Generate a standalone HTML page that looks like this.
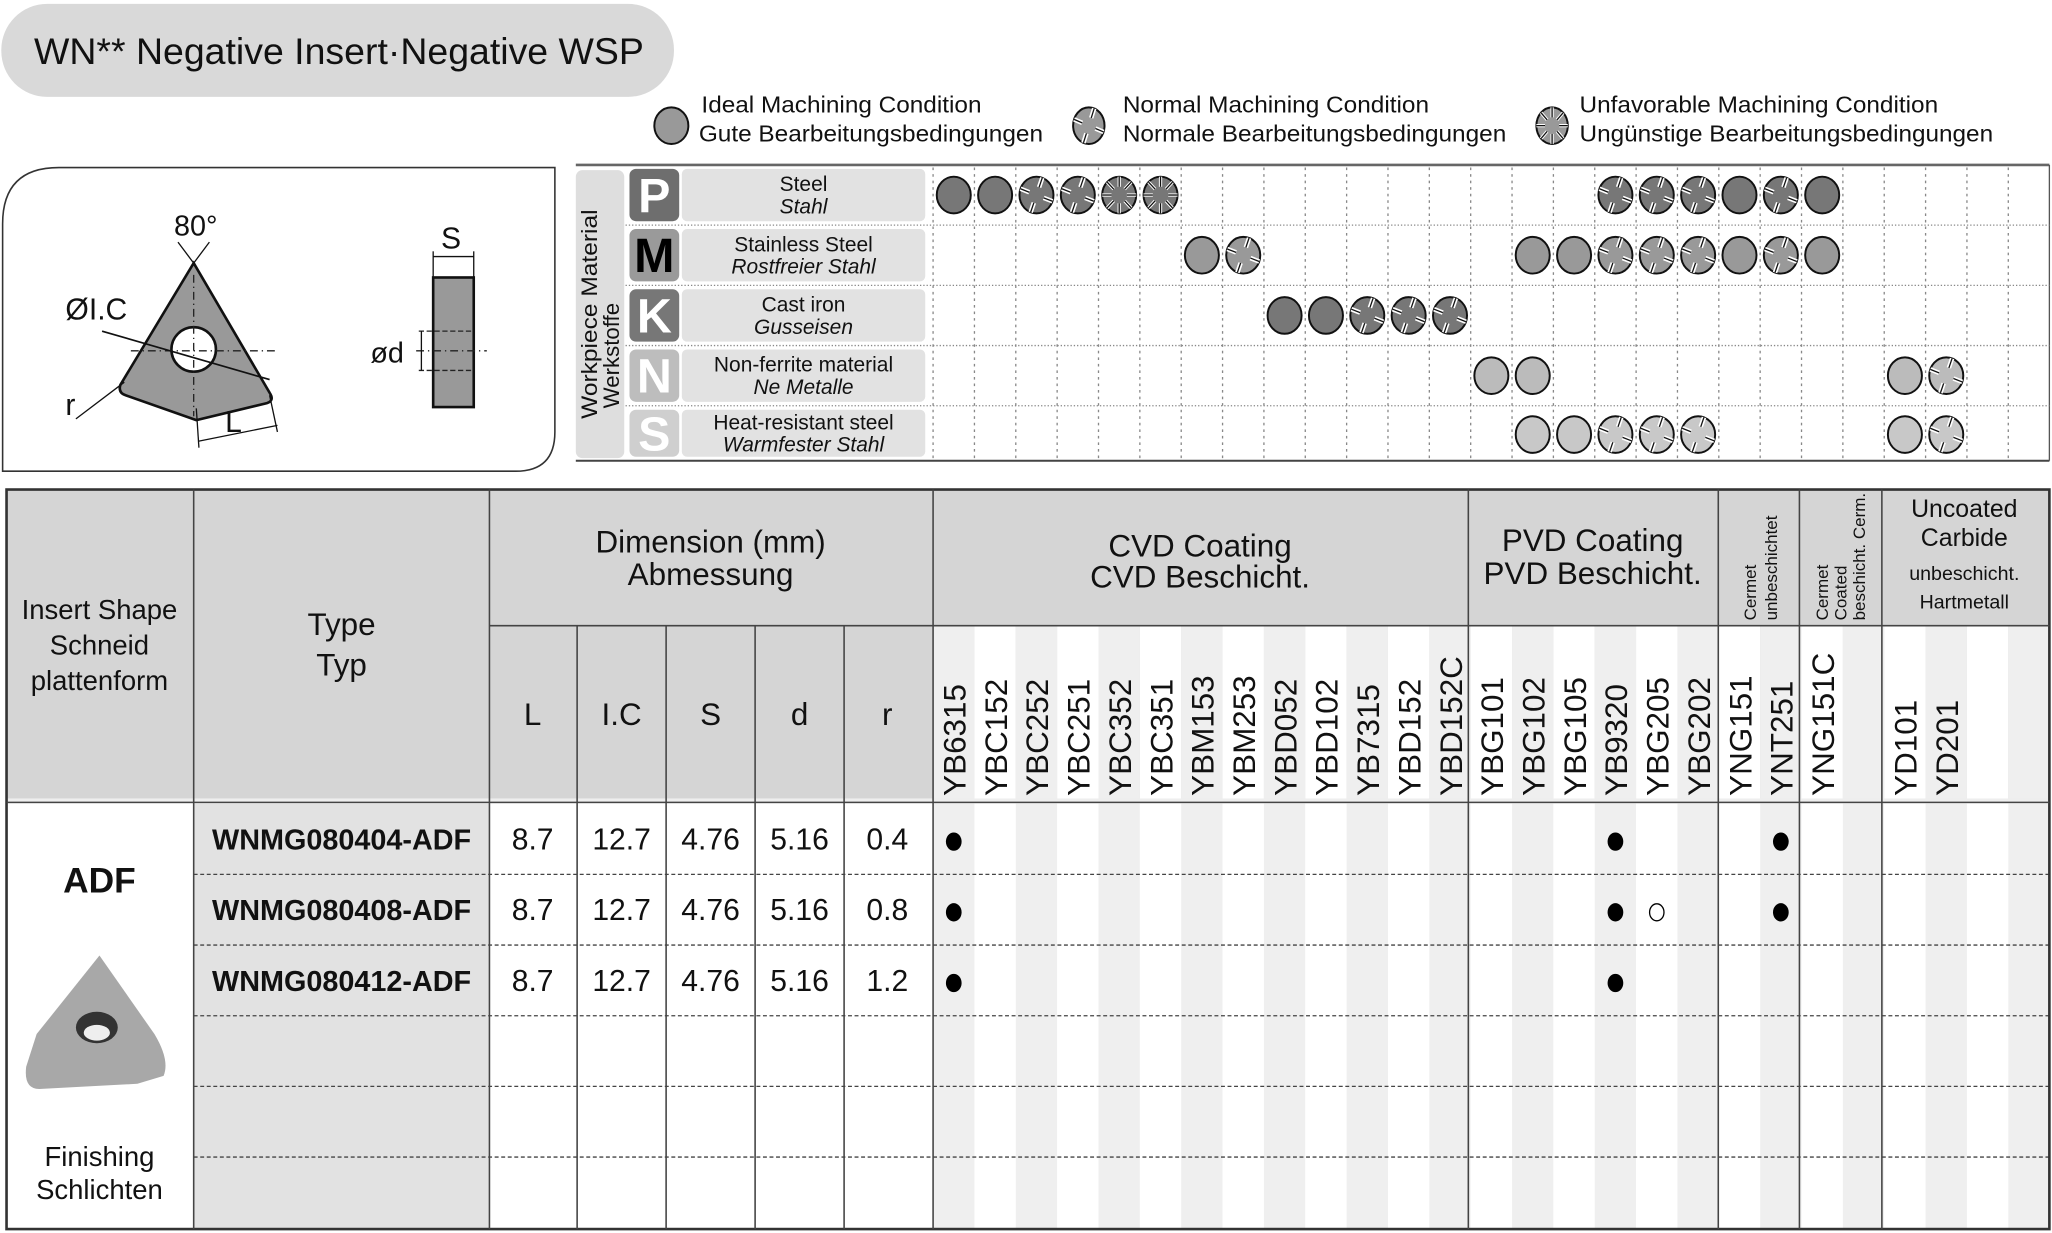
<!DOCTYPE html>
<html><head><meta charset="utf-8"><style>
html,body{margin:0;padding:0;background:#fff;width:2052px;height:1233px;overflow:hidden}
svg{display:block}
text{font-family:"Liberation Sans",sans-serif;fill:#111}
</style></head><body>
<svg id="s" width="2052" height="1233" viewBox="0 0 1568 942" preserveAspectRatio="none" xmlns="http://www.w3.org/2000/svg">
<rect x="0" y="0" width="1568" height="942" fill="#fff"/>
<!-- title -->
<rect x="1" y="3" width="514" height="71" rx="35" fill="#d9d9d9"/>
<text x="26" y="49" font-size="28" textLength="466" lengthAdjust="spacingAndGlyphs">WN** Negative Insert·Negative WSP</text>
<!-- legend -->
<g id="leg"></g>
<text x="536" y="86" font-size="18" textLength="214" lengthAdjust="spacingAndGlyphs">Ideal Machining Condition</text>
<text x="534" y="108" font-size="18" textLength="263" lengthAdjust="spacingAndGlyphs">Gute Bearbeitungsbedingungen</text>
<text x="858" y="86" font-size="18" textLength="234" lengthAdjust="spacingAndGlyphs">Normal Machining Condition</text>
<text x="858" y="108" font-size="18" textLength="293" lengthAdjust="spacingAndGlyphs">Normale Bearbeitungsbedingungen</text>
<text x="1207" y="86" font-size="18" textLength="274" lengthAdjust="spacingAndGlyphs">Unfavorable Machining Condition</text>
<text x="1207" y="108" font-size="18" textLength="316" lengthAdjust="spacingAndGlyphs">Ungünstige Bearbeitungsbedingungen</text>
<!-- drawing frame -->
<path d="M45,128 H424 V330 Q424,360 394,360 H2 V171 Q2,128 45,128 Z" fill="none" stroke="#333" stroke-width="1.2"/>
<path d="M148,201 L206,300 Q210,306 204,308 L150,321 L96,302 Q90,300 92,294 Z" fill="#999" stroke="#111" stroke-width="2"/>
<circle cx="148" cy="267" r="17" fill="#fff" stroke="#111" stroke-width="2"/>
<line x1="100" y1="268" x2="212" y2="268" stroke="#222" stroke-dasharray="6,3,1,3"/>
<line x1="148" y1="210" x2="148" y2="318" stroke="#222" stroke-dasharray="6,3,1,3"/>
<line x1="78" y1="253" x2="206" y2="290" stroke="#111" stroke-width="1.3"/>
<line x1="148" y1="201" x2="136" y2="185" stroke="#111"/><line x1="148" y1="201" x2="160" y2="185" stroke="#111"/>
<text x="133" y="180" font-size="22">80°</text>
<text x="50" y="244" font-size="23">ØI.C</text>
<text x="50" y="317" font-size="23">r</text>
<line x1="58" y1="320" x2="95" y2="292" stroke="#111"/>
<text x="172" y="330" font-size="23">L</text>
<line x1="152" y1="337" x2="212" y2="325" stroke="#111"/>
<line x1="150" y1="312" x2="152" y2="342" stroke="#111"/><line x1="206" y1="302" x2="212" y2="330" stroke="#111"/>
<rect x="331" y="212" width="31" height="99" fill="#999" stroke="#111" stroke-width="2"/>
<line x1="331" y1="192" x2="331" y2="212" stroke="#111"/><line x1="362" y1="192" x2="362" y2="212" stroke="#111"/>
<line x1="331" y1="196" x2="362" y2="196" stroke="#111"/>
<text x="337" y="190" font-size="23">S</text>
<line x1="318" y1="268" x2="372" y2="268" stroke="#222" stroke-dasharray="6,3,1,3"/>
<line x1="320" y1="253" x2="362" y2="253" stroke="#222" stroke-dasharray="4,2"/><line x1="320" y1="283" x2="362" y2="283" stroke="#222" stroke-dasharray="4,2"/>
<line x1="322" y1="253" x2="322" y2="283" stroke="#111"/>
<text x="283" y="277" font-size="22">ød</text>
<!-- top chart -->
<line x1="440" y1="126" x2="1566" y2="126" stroke="#666" stroke-width="2"/>
<line x1="440" y1="352" x2="1566" y2="352" stroke="#444" stroke-width="1.5"/>
<line x1="1566" y1="126" x2="1566" y2="352" stroke="#555"/>
<rect x="440" y="130" width="37" height="220" rx="5" fill="#dedede"/>
<text transform="translate(456,320) rotate(-90)" font-size="17" textLength="160" lengthAdjust="spacingAndGlyphs">Workpiece Material</text>
<text transform="translate(473,312) rotate(-90)" font-size="17">Werkstoffe</text>
<g id="top"></g>
<!-- bottom table -->
<g id="bot"></g>
</svg>
<script>
const NS="http://www.w3.org/2000/svg";
function el(p,t,a,txt){const e=document.createElementNS(NS,t);for(const k in a)e.setAttribute(k,a[k]);if(txt!==undefined)e.textContent=txt;p.appendChild(e);return e;}
function icon(p,cx,cy,rx,ry,fill,type){
 el(p,'ellipse',{cx,cy,rx,ry,fill,stroke:'#111','stroke-width':1.5});
 if(type===0)return;
 const angs=type===1?[20,110,200,290]:[0,45,90,135,180,225,270,315];
 for(const a of angs){const r=a*Math.PI/180;
  const x1=cx+Math.cos(r)*rx,y1=cy+Math.sin(r)*ry,x2=cx+Math.cos(r)*rx*0.45,y2=cy+Math.sin(r)*ry*0.45;
  el(p,'line',{x1,y1,x2,y2,stroke:'#fff','stroke-width':type===1?3.5:2.5});
  el(p,'line',{x1,y1,x2,y2,stroke:'#111','stroke-width':1});}
}
const leg=document.getElementById('leg');
icon(leg,513,96,13,14,'#999',0);icon(leg,832,96,12,14,'#999',1);icon(leg,1186,96,12,14,'#999',2);
const top_=document.getElementById('top');
const CW=31.6,X0=713;const cx=i=>X0+CW*i+15.8;
const rows=[[126,172],[172,218],[218,264],[264,310],[310,352]];
const mats=[['P','#6e6e6e','#fff','Steel','Stahl','#777'],['M','#9a9a9a','#000','Stainless Steel','Rostfreier Stahl','#999'],['K','#777','#fff','Cast iron','Gusseisen','#777'],['N','#bdbdbd','#fff','Non-ferrite material','Ne Metalle','#bbb'],['S','#cfcfcf','#fff','Heat-resistant steel','Warmfester Stahl','#c8c8c8']];
for(let k=0;k<27;k++){el(top_,'line',{x1:X0+CW*k,y1:128,x2:X0+CW*k,y2:351,stroke:'#888','stroke-dasharray':'2,3'});}
rows.forEach((r,i)=>{
 if(i>0)el(top_,'line',{x1:478,y1:r[0],x2:1566,y2:r[0],stroke:'#888','stroke-dasharray':'1,1.5'});
 const m=mats[i];
 el(top_,'rect',{x:481,y:r[0]+3,width:38,height:r[1]-r[0]-6,rx:5,fill:m[1]});
 el(top_,'text',{x:500,y:(r[0]+r[1])/2+13,'font-size':37,'font-weight':'bold','text-anchor':'middle',style:'fill:'+m[2]},m[0]);
 el(top_,'rect',{x:521,y:r[0]+3,width:186,height:r[1]-r[0]-6,rx:4,fill:'#e2e2e2'});
 const my=(r[0]+r[1])/2;
 el(top_,'text',{x:614,y:my-3,'font-size':16,'text-anchor':'middle'},m[3]);
 el(top_,'text',{x:614,y:my+14,'font-size':16,'text-anchor':'middle','font-style':'italic'},m[4]);
});
const dots=[[[0,0],[1,0],[2,1],[3,1],[4,2],[5,2],[16,1],[17,1],[18,1],[19,0],[20,1],[21,0]],
[[6,0],[7,1],[14,0],[15,0],[16,1],[17,1],[18,1],[19,0],[20,1],[21,0]],
[[8,0],[9,0],[10,1],[11,1],[12,1]],
[[13,0],[14,0],[23,0],[24,1]],
[[14,0],[15,0],[16,1],[17,1],[18,1],[23,0],[24,1]]];
dots.forEach((d,i)=>{const cy=(rows[i][0]+rows[i][1])/2+(i==4?1:0);d.forEach(([c,t])=>icon(top_,cx(c),cy,13,14,mats[i][5],t));});
// bottom
const b=document.getElementById('bot');
const T=374,H2=478,D=613,B=939;
el(b,'rect',{x:5,y:T,width:1561,height:D-T,fill:'#d5d5d5'});
for(let k=0;k<27;k++){const x=X0+CW*k;
 el(b,'rect',{x,y:H2,width:CW,height:B-H2,fill:k%2==0?'#efefef':'#fff'});}
el(b,'rect',{x:5,y:D,width:143,height:B-D,fill:'#fff'});
el(b,'rect',{x:148,y:D,width:226,height:B-D,fill:'#e2e2e2'});
el(b,'rect',{x:374,y:D,width:339,height:B-D,fill:'#fff'});
el(b,'rect',{x:5,y:D-3,width:1561,height:4,fill:'#eee'});
const rowsY=[613,668,722,776,830,884];
rowsY.slice(1).forEach(y=>el(b,'line',{x1:148,y1:y,x2:1566,y2:y,stroke:'#444','stroke-dasharray':'3,2'}));
el(b,'rect',{x:5,y:T,width:1561,height:B-T,fill:'none',stroke:'#333','stroke-width':2});
[148,374,713,1122,1313,1375,1438].forEach(x=>el(b,'line',{x1:x,y1:T,x2:x,y2:B,stroke:'#444','stroke-width':1.2}));
[441,509,577,645].forEach(x=>el(b,'line',{x1:x,y1:H2,x2:x,y2:B,stroke:'#444','stroke-width':1.2}));
el(b,'line',{x1:374,y1:H2,x2:1566,y2:H2,stroke:'#444','stroke-width':1.2});
el(b,'line',{x1:5,y1:D,x2:1566,y2:D,stroke:'#444','stroke-width':1.2});
const tx=(x,y,s,t,o)=>el(b,'text',Object.assign({x,y,'font-size':s,'text-anchor':'middle'},o||{}),t);
tx(76,473,21,'Insert Shape');tx(76,500,21,'Schneid');tx(76,527,21,'plattenform');
tx(261,485,24,'Type');tx(261,516,24,'Typ');
tx(543,422,24,'Dimension (mm)');tx(543,447,24,'Abmessung');
tx(917,425,24,'CVD Coating');tx(917,449,24,'CVD Beschicht.');
tx(1217,421,24,'PVD Coating');tx(1217,446,24,'PVD Beschicht.');
tx(1501,395,19,'Uncoated');tx(1501,417,19,'Carbide');tx(1501,443,15,'unbeschicht.');tx(1501,465,15,'Hartmetall');
el(b,'text',{transform:'translate(1342,474) rotate(-90)','font-size':13},'Cermet');
el(b,'text',{transform:'translate(1358,474) rotate(-90)','font-size':13},'unbeschichtet');
el(b,'text',{transform:'translate(1397,474) rotate(-90)','font-size':13},'Cermet');
el(b,'text',{transform:'translate(1411,474) rotate(-90)','font-size':13},'Coated');
el(b,'text',{transform:'translate(1425,474) rotate(-90)','font-size':13},'beschicht. Cerm.');
[['L',407],['I.C',475],['S',543],['d',611],['r',678]].forEach(([t,x])=>tx(x,554,24,t));
const g=['YB6315','YBC152','YBC252','YBC251','YBC352','YBC351','YBM153','YBM253','YBD052','YBD102','YB7315','YBD152','YBD152C','YBG101','YBG102','YBG105','YB9320','YBG205','YBG202','YNG151','YNT251','YNG151C','','YD101','YD201','',''];
g.forEach((t,i)=>{if(t)el(b,'text',{transform:`translate(${cx(i)+9},608) rotate(-90)`,'font-size':24},t);});
tx(76,682,27,'ADF',{'font-weight':'bold'});
tx(76,891,21,'Finishing');tx(76,916,21,'Schlichten');
el(b,'path',{d:'M76,730 L118,790 Q130,810 125,822 L105,828 L30,832 Q18,832 20,815 L28,790 Z',fill:'#a8a8a8'});
el(b,'ellipse',{cx:74,cy:785,rx:16,ry:12,fill:'#333'});el(b,'ellipse',{cx:74,cy:789,rx:10,ry:6,fill:'#eee'});
const data=[['WNMG080404-ADF','0.4'],['WNMG080408-ADF','0.8'],['WNMG080412-ADF','1.2']];
data.forEach((d,i)=>{const y=649+54*i;
 tx(261,y,22,d[0],{'font-weight':'bold'});
 tx(407,y,23,'8.7');tx(475,y,23,'12.7');tx(543,y,23,'4.76');tx(611,y,23,'5.16');tx(678,y,23,d[1]);
 const yy=y-6;
 el(b,'ellipse',{cx:cx(0),cy:yy,rx:6,ry:7,fill:'#000'});el(b,'ellipse',{cx:cx(16),cy:yy,rx:6,ry:7,fill:'#000'});
 if(i<2)el(b,'ellipse',{cx:cx(20),cy:yy,rx:6,ry:7,fill:'#000'});
 if(i==1)el(b,'ellipse',{cx:cx(17),cy:yy,rx:5.5,ry:6.5,fill:'#fff',stroke:'#000','stroke-width':1});
});
</script>
</body></html>
